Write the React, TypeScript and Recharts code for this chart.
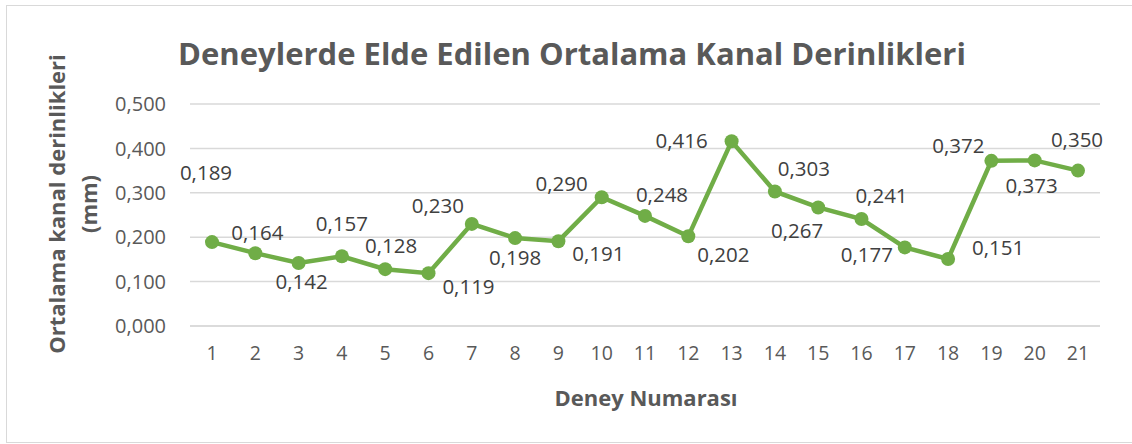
import React from 'react';
import { LineChart, Line, XAxis, YAxis, CartesianGrid, LabelList } from 'recharts';

const deneyler = ['1', '2', '3', '4', '5', '6', '7', '8', '9', '10', '11', '12', '13', '14', '15', '16', '17', '18', '19', '20', '21'];
const derinlikler = [
  0.189, 0.164, 0.142, 0.157, 0.128, 0.119, 0.23, 0.198, 0.191, 0.29, 0.248,
  0.202, 0.416, 0.303, 0.267, 0.241, 0.177, 0.151, 0.372, 0.373, 0.35,
];
const yTicks = [0, 0.1, 0.2, 0.3, 0.4, 0.5];

// label placement relative to the point (dx, dy), like Excel's auto layout
const labelOffsets: [number, number][] = [
  [-6, -70], [2, -21], [3, 18], [0, -33], [6, -24], [40, 13], [-34, -19],
  [0, 19], [40, 12], [-40, -14], [17, -22], [35, 18], [-50, -1], [29, -23],
  [-21, 23], [20, -24], [-38, 7], [50, -12], [-33, -16], [-3, 25], [-1, -32],
];

const data = deneyler.map((d, i) => ({ deney: d, derinlik: derinlikler[i] }));

const fmt = (v: number) => v.toFixed(3).replace('.', ',');
const FONT = 'Open Sans, Liberation Sans, sans-serif';

const DataLabel = (props: any) => {
  const { x, y, value, index } = props;
  const [dx, dy] = labelOffsets[index] || [0, -20];
  return (
    <text
      x={x + dx}
      y={y + dy}
      textAnchor="middle"
      dominantBaseline="central"
      fontSize={20.5}
      fill="#404040"
      fontFamily={FONT}
    >
      {fmt(value)}
    </text>
  );
};

const App: React.FC = () => {
  return (
    <div style={{ position: 'absolute', left: 0, top: 0, width: 1132, height: 444, background: '#fff' }}>
      <svg width={1132} height={444} style={{ position: 'absolute', left: 0, top: 0 }}>
        <rect x={6.5} y={5.5} width={1130} height={437} fill="#fff" stroke="#d9d9d9" strokeWidth={1} />
      </svg>
      <div style={{ position: 'absolute', left: 0, top: 0 }}>
        <LineChart width={1132} height={444} data={data} margin={{ top: 104, right: 32, bottom: 88, left: 100 }}>
          <text x={572} y={53} textAnchor="middle" dominantBaseline="central" fontSize={31} fontWeight="bold" fill="#595959" fontFamily={FONT}>
            Deneylerde Elde Edilen Ortalama Kanal Derinlikleri
          </text>
          <text
            transform="translate(56,204) rotate(-90)"
            textAnchor="middle"
            dominantBaseline="central"
            fontSize={22}
            fontWeight="bold"
            fill="#595959"
            fontFamily={FONT}
          >
            Ortalama kanal derinlikleri
          </text>
          <text
            transform="translate(88,204) rotate(-90)"
            textAnchor="middle"
            dominantBaseline="central"
            fontSize={22}
            fontWeight="bold"
            fill="#595959"
            fontFamily={FONT}
          >
            (mm)
          </text>
          <text x={646} y={397} textAnchor="middle" dominantBaseline="central" fontSize={22} fontWeight="bold" fill="#595959" fontFamily={FONT}>
            Deney Numarası
          </text>
          <CartesianGrid vertical={false} stroke="#d9d9d9" strokeWidth={1.5} />
          <XAxis
            dataKey="deney"
            tickLine={false}
            axisLine={{ stroke: '#d9d9d9', strokeWidth: 1.5 }}
            tick={{ fontSize: 19.5, fill: '#595959', fontFamily: FONT }}
            tickMargin={14}
            interval={0}
            padding={{ left: 22, right: 22 }}
          />
          <YAxis
            width={90}
            domain={[0, 0.5]}
            ticks={yTicks}
            tickFormatter={fmt}
            tickLine={false}
            axisLine={false}
            tick={{ fontSize: 20, fill: '#595959', fontFamily: FONT }}
            tickMargin={18}
          />
          <Line
            type="linear"
            dataKey="derinlik"
            stroke="#70AD47"
            strokeWidth={4.5}
            dot={{ r: 7, fill: '#70AD47', stroke: '#70AD47', strokeWidth: 0 }}
            isAnimationActive={false}
          >
            <LabelList dataKey="derinlik" content={<DataLabel />} />
          </Line>
        </LineChart>
      </div>
    </div>
  );
};

export default App;
